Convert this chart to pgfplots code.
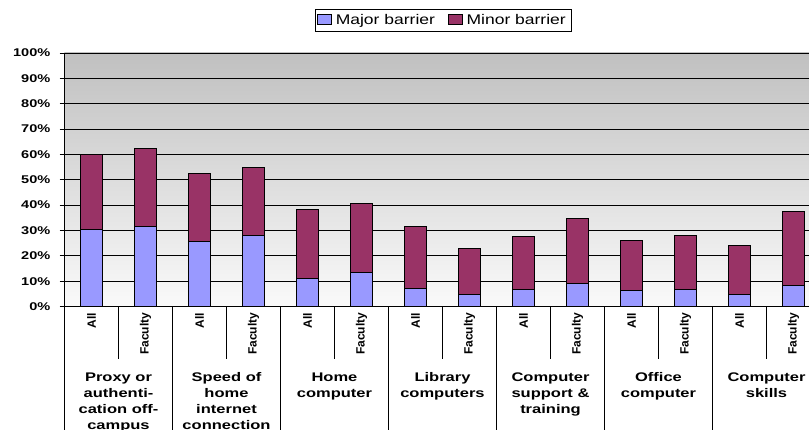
\documentclass[border=0pt]{standalone}
\usepackage{pgfplots}
\pgfplotsset{compat=1.18}
\usepackage{fontspec}
\setmainfont{Liberation Sans}
\usepackage{graphicx}
\definecolor{majorc}{HTML}{9999FF}
\definecolor{minorc}{HTML}{993366}
\definecolor{bgtop}{HTML}{C0C0C0}
\definecolor{bgbot}{HTML}{FAFAFA}
\newcommand{\grp}[1]{\scalebox{1.32}[1]{\fontsize{12.5}{16}\selectfont\bfseries\begin{tabular}{@{}c@{}}#1\end{tabular}}}
\newcommand{\sx}[1]{\scalebox{1.3}[1]{#1}}
\begin{document}
\begin{tikzpicture}
\begin{axis}[
  at={(64.5pt,-306.5pt)}, anchor=south west,
  scale only axis, width=756pt, height=253.5pt,
  ybar stacked, bar width=21.5pt,
  xmin=-0.5, xmax=13.5, ymin=0, ymax=100,
  clip=false,
  axis x line*=bottom, axis y line*=left,
  axis line style={-, black, line width=0.8pt},
  axis background/.style={top color=bgtop, bottom color=bgbot},
  ytick={0,10,...,100},
  ymajorgrids, major grid style={black, line width=0.8pt},
  tick align=outside, major tick length=5pt,
  tick style={black, line width=0.8pt},
  yticklabel={\sx{\pgfmathparse{int(round(\tick))}\pgfmathresult\%}},
  y tick label style={font=\fontsize{11.2}{13}\selectfont\bfseries, anchor=east, inner sep=0pt, xshift=-9pt},
  xtick={0,...,13},
  xticklabels={All,Faculty,All,Faculty,All,Faculty,All,Faculty,All,Faculty,All,Faculty,All,Faculty},
  xtick style={draw=none},
  x tick label style={font=\fontsize{12}{14}\selectfont\bfseries, rotate=90, anchor=east, inner sep=0pt, xshift=-1pt},
  legend style={at={(0.5013,1.128)}, anchor=center, draw=black, line width=0.8pt, fill=white,
    legend columns=2, font=\fontsize{14}{16}\selectfont, inner xsep=2pt, inner ysep=3pt,
    /tikz/every even column/.append style={column sep=9pt},
    nodes={inner xsep=4pt}},
  legend image code/.code={\draw[#1, draw=black, line width=0.6pt] (0pt,-4pt) rectangle (14pt,6pt);},
]
\addplot[fill=majorc, draw=black, line width=0.8pt] coordinates {
  (0,30.5) (1,31.7) (2,25.5) (3,28.2) (4,11.2) (5,13.4) (6,7.2)
  (7,4.6) (8,6.7) (9,9.2) (10,6.4) (11,6.7) (12,4.6) (13,8.4)};
\addplot[fill=minorc, draw=black, line width=0.8pt] coordinates {
  (0,29.6) (1,30.5) (2,27.1) (3,26.8) (4,27.0) (5,27.1) (6,24.5)
  (7,18.3) (8,20.9) (9,25.7) (10,19.5) (11,21.5) (12,19.5) (13,29.2)};
\addlegendentry{\scalebox{1.25}[1]{Major barrier}}
\addlegendentry{\scalebox{1.25}[1]{Minor barrier}}
\pgfplotsinvokeforeach{-0.5,1.5,3.5,5.5,7.5,9.5,11.5,13.5}{
  \draw[black, line width=0.8pt] (axis cs:#1,0) -- ++(0pt,-124pt);}
\pgfplotsinvokeforeach{0.5,2.5,4.5,6.5,8.5,10.5,12.5}{
  \draw[black, line width=0.8pt] (axis cs:#1,0) -- ++(0pt,-52pt);}
\node[anchor=north, inner sep=0pt] at ([yshift=-64pt]axis cs:0.5,0) {\grp{Proxy or\\authenti-\\cation off-\\campus}};
\node[anchor=north, inner sep=0pt] at ([yshift=-64pt]axis cs:2.5,0) {\grp{Speed of\\home\\internet\\connection}};
\node[anchor=north, inner sep=0pt] at ([yshift=-64pt]axis cs:4.5,0) {\grp{Home\\computer}};
\node[anchor=north, inner sep=0pt] at ([yshift=-64pt]axis cs:6.5,0) {\grp{Library\\computers}};
\node[anchor=north, inner sep=0pt] at ([yshift=-64pt]axis cs:8.5,0) {\grp{Computer\\support \&\\training}};
\node[anchor=north, inner sep=0pt] at ([yshift=-64pt]axis cs:10.5,0) {\grp{Office\\computer}};
\node[anchor=north, inner sep=0pt] at ([yshift=-64pt]axis cs:12.5,0) {\grp{Computer\\skills}};
\end{axis}
\pgfresetboundingbox
\useasboundingbox (0pt,0pt) rectangle (809pt,-430pt);
\end{tikzpicture}
\end{document}
